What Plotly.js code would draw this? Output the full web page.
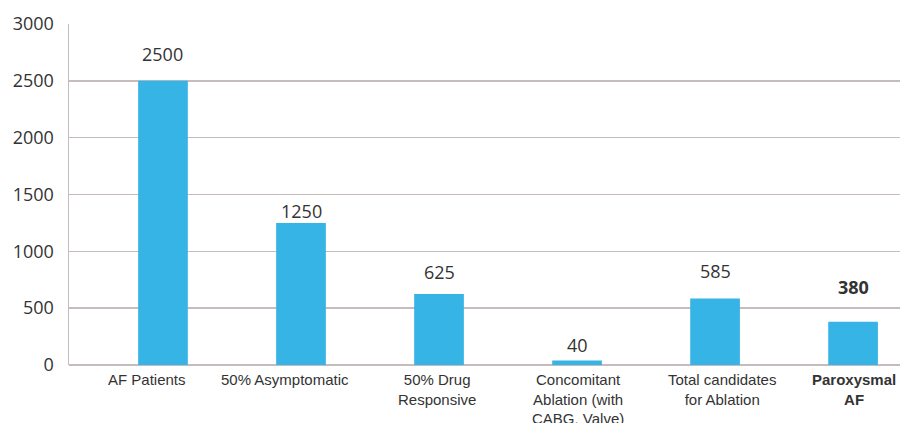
<!DOCTYPE html>
<html>
<head>
<meta charset="utf-8">
<script src="https://cdn.plot.ly/plotly-3.0.1.min.js"></script>
<style>html,body{margin:0;padding:0;background:#fff;}#chart{width:900px;height:423px;}</style>
</head>
<body>
<div id="chart"></div>
<script>
const categories = [
  "AF Patients",
  "50% Asymptomatic",
  "50% Drug<br>Responsive",
  "Concomitant<br>Ablation (with<br>CABG, Valve)",
  "Total candidates<br>for Ablation",
  "<b>Paroxysmal<br>AF</b>"
];
const values = [2500, 1250, 625, 40, 585, 380];
const valueLabels = ["2500", "1250", "625", "40", "585", "<b>380</b>"];
const yTicks = [0, 500, 1000, 1500, 2000, 2500, 3000];

// layout styling: label offsets (pixels)
const labelShift = [27, 12, 22, 15, 28, 35];
const catShift = [-16, -16, -2, 1, 7, 1];

const idx = categories.map((_, i) => i);

const trace = {
  type: "bar",
  x: idx,
  y: values,
  width: 0.36,
  marker: {color: "#36B4E5"},
  hoverinfo: "skip"
};

const valueAnn = values.map((v, i) => ({
  x: i, y: v, xref: "x", yref: "y",
  text: valueLabels[i],
  showarrow: false,
  yshift: labelShift[i],
  font: {family: "Open Sans, sans-serif", size: 18, color: "#333"}
}));

const catAnn = categories.map((c, i) => ({
  x: i, y: 0, xref: "x", yref: "paper",
  yanchor: "top", xanchor: "center",
  text: c, align: "center",
  showarrow: false,
  xshift: catShift[i], yshift: -4,
  font: {family: "Liberation Sans, Arial, sans-serif", size: 15, color: "#333"}
}));

const layout = {
  width: 900, height: 423,
  margin: {l: 69, r: 0, t: 24, b: 58},
  paper_bgcolor: "#fff", plot_bgcolor: "#fff",
  showlegend: false,
  xaxis: {
    range: [-0.681, 5.34],
    tickmode: "array",
    tickvals: idx,
    showticklabels: false,
    showgrid: false, zeroline: false, showline: false, ticks: "",
    fixedrange: true
  },
  yaxis: {
    range: [0, 3000],
    tickmode: "array",
    tickvals: yTicks,
    ticktext: yTicks.map(String),
    tickfont: {family: "Open Sans, sans-serif", size: 18, color: "#333"},
    showgrid: true, gridcolor: "#c6bcbb", gridwidth: 1.5,
    zeroline: true, zerolinecolor: "#c6bcbb", zerolinewidth: 1.5,
    showline: true, linecolor: "#c6bcbb", linewidth: 1.5,
    ticks: "", ticklabelstandoff: 10,
    fixedrange: true
  },
  annotations: valueAnn.concat(catAnn)
};

Plotly.newPlot("chart", [trace], layout, {displayModeBar: false, staticPlot: true});
</script>
</body>
</html>
